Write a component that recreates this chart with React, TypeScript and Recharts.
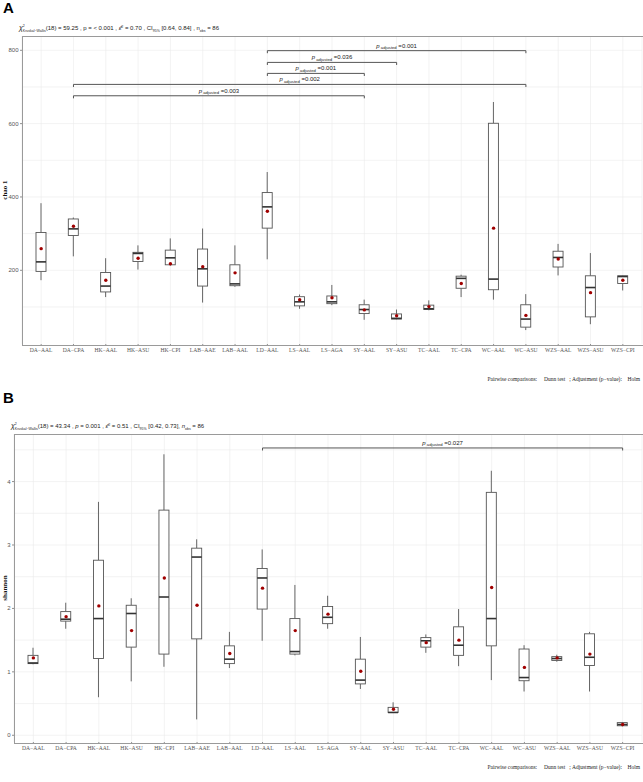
import React from "react";
import { ComposedChart, Bar, Scatter, XAxis, YAxis, CartesianGrid, ReferenceLine } from "recharts";

const groups = [
  "DA-AAL", "DA-CPA", "HK-AAL", "HK-ASU", "HK-CPI", "LAB-AAE", "LAB-AAL", "LD-AAL", "LS-AAL", "LS-AGA",
  "SY-AAL", "SY-ASU", "TC-AAL", "TC-CPA", "WC-AAL", "WC-ASU", "WZS-AAL", "WZS-ASU", "WZS-CPI",
];

// chao 1 (panel A)
const chaoMin = [173, 238, 127, 202, 213, 112, 155, 230, 95, 105, 65, 66, 91, 127, 120, 37, 186, 53, 145];
const chaoQ1 = [197, 295, 141, 224, 215, 157, 158, 315, 103, 109, 82, 67, 93, 151, 147, 45, 209, 73, 164];
const chaoMedian = [223, 313, 157, 246, 234, 204, 163, 373, 114, 114, 93, 69, 95, 178, 176, 67, 235, 153, 183];
const chaoQ3 = [303, 340, 194, 249, 255, 258, 215, 412, 128, 130, 106, 81, 105, 184, 601, 106, 252, 185, 185];
const chaoMax = [383, 344, 233, 268, 287, 314, 268, 468, 134, 160, 120, 93, 118, 188, 659, 135, 272, 247, 186];
const chaoMean = [259, 320, 173, 233, 218, 210, 193, 361, 120, 125, 92, 76, 101, 164, 315, 77, 231, 139, 173];

// shannon (panel B)
const shannonMin = [1.12, 1.68, 0.6, 0.85, 1.08, 0.25, 1.06, 1.49, 1.26, 1.68, 0.73, 0.35, 1.3, 1.09, 0.87, 0.69, 1.16, 0.69, 0.14];
const shannonQ1 = [1.13, 1.8, 1.21, 1.39, 1.28, 1.52, 1.13, 1.99, 1.28, 1.76, 0.81, 0.36, 1.39, 1.26, 1.41, 0.86, 1.18, 1.1, 0.15];
const shannonMedian = [1.14, 1.83, 1.84, 1.92, 2.18, 2.81, 1.2, 2.48, 1.32, 1.86, 0.87, 0.36, 1.49, 1.42, 1.84, 0.91, 1.21, 1.23, 0.17];
const shannonQ3 = [1.26, 1.95, 2.76, 2.05, 3.55, 2.95, 1.41, 2.63, 1.84, 2.03, 1.2, 0.44, 1.54, 1.71, 3.83, 1.36, 1.24, 1.6, 0.2];
const shannonMax = [1.38, 2.09, 3.68, 2.16, 4.43, 3.09, 1.63, 2.93, 2.37, 2.2, 1.55, 0.52, 1.59, 1.99, 4.17, 1.42, 1.27, 1.63, 0.21];
const shannonMean = [1.22, 1.87, 2.04, 1.65, 2.48, 2.05, 1.29, 2.32, 1.65, 1.91, 1.01, 0.41, 1.46, 1.5, 2.33, 1.07, 1.22, 1.28, 0.17];

const chaoTicks = [200, 400, 600, 800];
const chaoGrid = [100, 200, 300, 400, 500, 600, 700, 800];
const shannonTicks = [0, 1, 2, 3, 4];
const shannonGrid = [0, 0.5, 1, 1.5, 2, 2.5, 3, 3.5, 4, 4.5];

const chaoBrackets = [
  { from: "LD-AAL", to: "WC-ASU", y: 799, p: "0.001" },
  { from: "LD-AAL", to: "SY-ASU", y: 767, p: "0.036" },
  { from: "LD-AAL", to: "SY-AAL", y: 737, p: "0.001" },
  { from: "DA-CPA", to: "WC-ASU", y: 707, p: "0.002" },
  { from: "DA-CPA", to: "SY-AAL", y: 676, p: "0.003" },
];
const shannonBrackets = [{ from: "LD-AAL", to: "WZS-CPI", y: 4.53, p: "0.027" }];

const build = (mn, q1, md, q3, mx, mean) =>
  groups.map((g, i) => ({ group: g, range: [mn[i], mx[i]], q1: q1[i], median: md[i], q3: q3[i], mean: mean[i] }));

const chaoData = build(chaoMin, chaoQ1, chaoMedian, chaoQ3, chaoMax, chaoMean);
const shannonData = build(shannonMin, shannonQ1, shannonMedian, shannonQ3, shannonMax, shannonMean);

const SANS = "'Liberation Sans', Arial, sans-serif";
const SERIF = "'Liberation Serif', 'Times New Roman', serif";

function BoxShape(props: any) {
  const { x, y, width, height, payload } = props;
  if (x == null || !payload) return null;
  const top = Math.min(y, y + height);
  const bottom = Math.max(y, y + height);
  const [lo, hi] = payload.range;
  const k = hi > lo ? (bottom - top) / (hi - lo) : 0;
  const py = (v: number) => bottom - (v - lo) * k;
  const cx = x + width / 2;
  return (
    <g>
      <line x1={cx} x2={cx} y1={py(hi)} y2={py(payload.q3)} stroke="#555" strokeWidth={0.9} />
      <line x1={cx} x2={cx} y1={py(payload.q1)} y2={py(lo)} stroke="#555" strokeWidth={0.9} />
      <rect x={x} y={py(payload.q3)} width={width} height={Math.max(0.5, py(payload.q1) - py(payload.q3))} fill="#fff" stroke="#555" strokeWidth={0.9} />
      <line x1={x} x2={x + width} y1={py(payload.median)} y2={py(payload.median)} stroke="#333" strokeWidth={1.6} />
    </g>
  );
}

const MeanDot = (p: any) => (p.cx == null ? null : <circle cx={p.cx} cy={p.cy} r={1.7} fill="#a00000" />);

function BracketLabel({ viewBox, p }: any) {
  if (!viewBox) return null;
  const cx = viewBox.x + viewBox.width / 2;
  return (
    <text x={cx} y={viewBox.y - 3} textAnchor="middle" fontFamily={SANS} fontSize={6} fill="#222">
      <tspan fontStyle="italic">p</tspan>
      <tspan fontSize={4.2} dy={1.5}> adjusted</tspan>
      <tspan dy={-1.5}> ={p}</tspan>
    </text>
  );
}

function Panel(props: any) {
  const { data, top, height, marginTop, axisH, yW, domain, ticks, grid, brackets, tickLen, yLabel, letter, subtitle, captionY, labelY } = props;
  const plotTop = marginTop;
  const plotBottom = height - axisH;
  const right = 642;
  return (
    <div style={{ position: "absolute", left: 0, top, width: 643, height }}>
      <div style={{ position: "absolute", left: 3, top: -1, fontFamily: SANS, fontWeight: 700, fontSize: 15 }}>{letter}</div>
      <div style={{ position: "absolute", left: yW - 3, top: plotTop - 13, fontFamily: SANS, fontSize: 6, lineHeight: "10px", color: "#222", whiteSpace: "nowrap" }}>
        {subtitle}
      </div>
      <ComposedChart width={643} height={height} data={data} margin={{ top: marginTop, right: 643 - right, bottom: 0, left: 0 }}>
        <CartesianGrid stroke="#ebebeb" strokeWidth={0.6} horizontalValues={grid} />
        <XAxis
          dataKey="group"
          type="category"
          height={axisH}
          padding={{ left: 3, right: 3 }}
          axisLine={false}
          tickSize={2}
          tickMargin={0}
          tickLine={{ stroke: "#444", strokeWidth: 0.6 }}
          interval={0}
          tick={(t: any) => (
            <text x={t.x} y={plotBottom + labelY} textAnchor="middle" fontFamily={SERIF} fontSize={5.6} fill="#555">
              {String(t.payload.value).replace(/-/g, "\u2212")}
            </text>
          )}
        />
        <YAxis
          type="number"
          domain={domain}
          ticks={ticks}
          allowDataOverflow
          width={yW}
          axisLine={false}
          tickSize={2}
          tickLine={{ stroke: "#444", strokeWidth: 0.6 }}
          tick={(t: any) => (
            <text x={yW - 3.5} y={t.y + 2} textAnchor="end" fontFamily={SANS} fontSize={6} fill="#555">
              {t.payload.value}
            </text>
          )}
        />
        <Bar dataKey="range" barSize={10} shape={<BoxShape />} isAnimationActive={false} />
        <Scatter dataKey="mean" shape={<MeanDot />} isAnimationActive={false} />
        {brackets.map((b: any, i: number) => (
          <ReferenceLine
            key={"h" + i}
            segment={[{ x: b.from, y: b.y }, { x: b.to, y: b.y }]}
            stroke="#555"
            strokeWidth={1}
            label={(lp: any) => <BracketLabel viewBox={lp.viewBox ?? lp} p={b.p} />}
          />
        ))}
        {brackets.map((b: any, i: number) => (
          <ReferenceLine key={"l" + i} segment={[{ x: b.from, y: b.y }, { x: b.from, y: b.y - tickLen }]} stroke="#555" strokeWidth={1} />
        ))}
        {brackets.map((b: any, i: number) => (
          <ReferenceLine key={"r" + i} segment={[{ x: b.to, y: b.y }, { x: b.to, y: b.y - tickLen }]} stroke="#555" strokeWidth={1} />
        ))}
      </ComposedChart>
      <div
        style={{
          position: "absolute",
          left: yW - 0.5,
          top: plotTop - 0.5,
          width: right - yW,
          height: plotBottom - plotTop,
          border: "1px solid #9a9a9a",
          pointerEvents: "none",
        }}
      />
      <div
        style={{
          position: "absolute",
          left: -20,
          top: (plotTop + plotBottom) / 2 - 5,
          width: 50,
          textAlign: "center",
          transform: "rotate(-90deg)",
          fontFamily: SERIF,
          fontWeight: 700,
          fontSize: 7,
          lineHeight: "10px",
          color: "#111",
        }}
      >
        {yLabel}
      </div>
      <div
        style={{
          position: "absolute",
          right: 3,
          top: captionY - 4,
          fontFamily: SERIF,
          fontSize: 5.5,
          lineHeight: "8px",
          color: "#222",
          whiteSpace: "pre",
        }}
      >
        {"Pairwise comparisons:     Dunn test   ; Adjustment (p\u2212value):    Holm"}
      </div>
    </div>
  );
}

function Chi() {
  return (
    <>
      <span style={{ fontStyle: "italic", fontSize: 7 }}>χ</span>
      <span style={{ position: "relative", display: "inline-block", fontSize: 3.5, lineHeight: "4px", verticalAlign: -1.5 }}>
        <span style={{ position: "absolute", left: 0, top: -5 }}>2</span>
        Kruskal−Wallis
      </span>
    </>
  );
}

function Eps() {
  return (
    <>
      <span style={{ fontStyle: "italic" }}>ε̂</span>
      <span style={{ fontSize: 3.5, position: "relative", top: -2.5 }}>2</span>
    </>
  );
}

const subtitleA = (
  <span>
    <Chi />(18) = 59.25 , p = &lt; 0.001 , <Eps /> = 0.70 , CI
    <span style={{ fontSize: 3.5, position: "relative", top: 1.5 }}>95%</span> [0.64, 0.84] , n
    <span style={{ fontSize: 3.5, position: "relative", top: 1.5 }}>obs</span> = 86
  </span>
);

const subtitleB = (
  <span>
    <Chi />(18) = 43.34 , <i>p</i> = 0.001 , <Eps /> = 0.51 , CI
    <span style={{ fontSize: 3.5, position: "relative", top: 1.5 }}>95%</span> [0.42, 0.73], <i>n</i>
    <span style={{ fontSize: 3.5, position: "relative", top: 1.5 }}>obs</span> = 86
  </span>
);

export default function App() {
  return (
    <div style={{ position: "absolute", left: 0, top: 0, width: 643, height: 782, background: "#fff", overflow: "hidden" }}>
      <Panel
        data={chaoData}
        top={0}
        height={390}
        marginTop={36}
        axisH={46}
        yW={22}
        domain={[-1, 839]}
        ticks={chaoTicks}
        grid={chaoGrid}
        brackets={chaoBrackets}
        tickLen={7}
        yLabel="chao 1"
        letter="A"
        subtitle={subtitleA}
        captionY={379}
        labelY={8}
      />
      <Panel
        data={shannonData}
        top={390}
        height={392}
        marginTop={44}
        axisH={40}
        yW={14}
        domain={[-0.106, 4.75]}
        ticks={shannonTicks}
        grid={shannonGrid}
        brackets={shannonBrackets}
        tickLen={0.04}
        yLabel="shannon"
        letter="B"
        subtitle={subtitleB}
        captionY={377}
        labelY={8}
      />
    </div>
  );
}
